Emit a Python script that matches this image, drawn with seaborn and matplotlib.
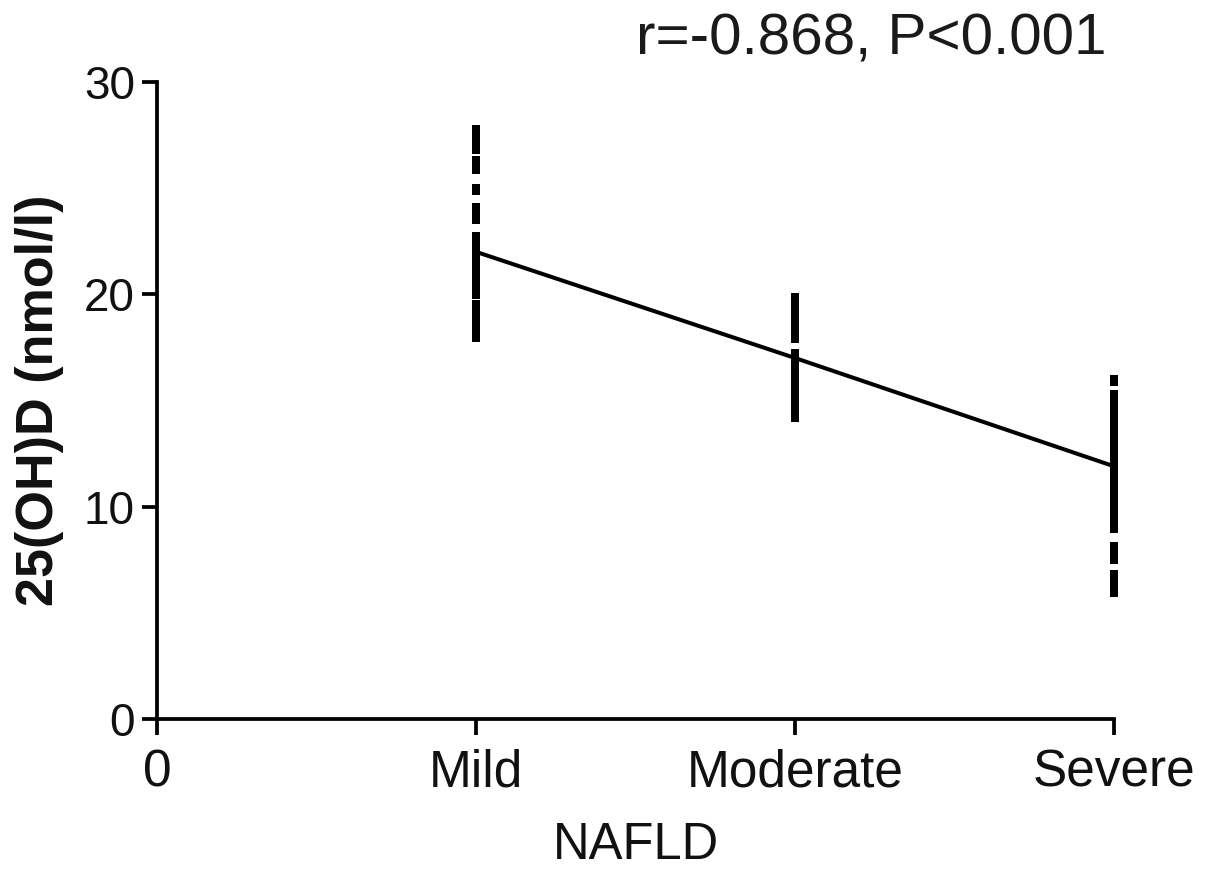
import matplotlib
matplotlib.use("Agg")
import matplotlib.pyplot as plt
import seaborn as sns
import pandas as pd

# ---- data ----
groups = ["Mild", "Moderate", "Severe"]
group_pos = [1, 2, 3]
mild_values = [27.7, 27.2, 26.85, 26.25, 25.95, 24.95, 24.05, 23.55,
               22.65, 22.2, 21.7, 21.2, 20.7, 20.3, 20.05,
               19.45, 19.0, 18.5, 18.0]
moderate_values = [19.8, 19.3, 18.8, 18.3, 17.95,
                   17.15, 16.7, 16.2, 15.7, 15.2, 14.7, 14.25]
severe_values = [15.95, 15.25, 14.8, 14.3, 13.8, 13.3, 12.8, 12.3,
                 11.8, 11.3, 10.8, 10.3, 9.8, 9.3, 9.0,
                 8.05, 7.55, 6.75, 6.25, 6.0]
mean_values = [22.0, 17.0, 11.9]
xtick_labels = ["0", "Mild", "Moderate", "Severe"]
ytick_values = [0, 10, 20, 30]
annotation = "r=-0.868, P<0.001"

rows = []
for pos, vals in zip(group_pos, [mild_values, moderate_values, severe_values]):
    for v in vals:
        rows.append({"x": pos, "y": v})
points = pd.DataFrame(rows)
means = pd.DataFrame({"x": group_pos, "y": mean_values})

sns.set_style("ticks")
plt.rcParams["font.family"] = ["Liberation Sans", "DejaVu Sans"]

fig = plt.figure(figsize=(12.05, 8.72), dpi=100)
ax = fig.add_axes([0.1303, 0.1755, 0.7942, 0.7305])

rect = [(-0.36, -0.5), (0.36, -0.5), (0.36, 0.5), (-0.36, 0.5), (-0.36, -0.5)]
sns.lineplot(data=means, x="x", y="y", ax=ax, color="black", linewidth=2.9,
             estimator=None, sort=False, zorder=2)
sns.scatterplot(data=points, x="x", y="y", ax=ax, marker=rect, s=(8.0) ** 2,
                color="black", edgecolor="none", linewidth=0, zorder=3,
                clip_on=False)

ax.set_xlim(0, 3)
ax.set_ylim(0, 30)
ax.set_xticks([0, 1, 2, 3])
ax.set_xticklabels(xtick_labels)
ax.set_yticks(ytick_values)
ax.set_yticklabels([str(v) for v in ytick_values])

for s in ["top", "right"]:
    ax.spines[s].set_visible(False)
for s in ["left", "bottom"]:
    ax.spines[s].set_linewidth(2.7)
    ax.spines[s].set_color("black")

ax.tick_params(axis="x", length=11.5, width=2.7, pad=10, labelsize=37,
               direction="out", colors="black", labelcolor="#111111")
ax.tick_params(axis="y", length=11, width=2.7, pad=5, labelsize=33,
               direction="out", colors="black", labelcolor="#111111")

ax.set_xlabel("NAFLD", fontsize=36.5, labelpad=17, color="#111111")
ax.set_ylabel("25(OH)D (nmol/l)", fontsize=37.5, fontweight="bold",
              labelpad=14, color="#111111")

fig.text(0.918, 1 - 55 / 872, annotation, ha="right", va="baseline",
         fontsize=42, color="#1a1a1a")

fig.savefig("out.png", dpi=100)
